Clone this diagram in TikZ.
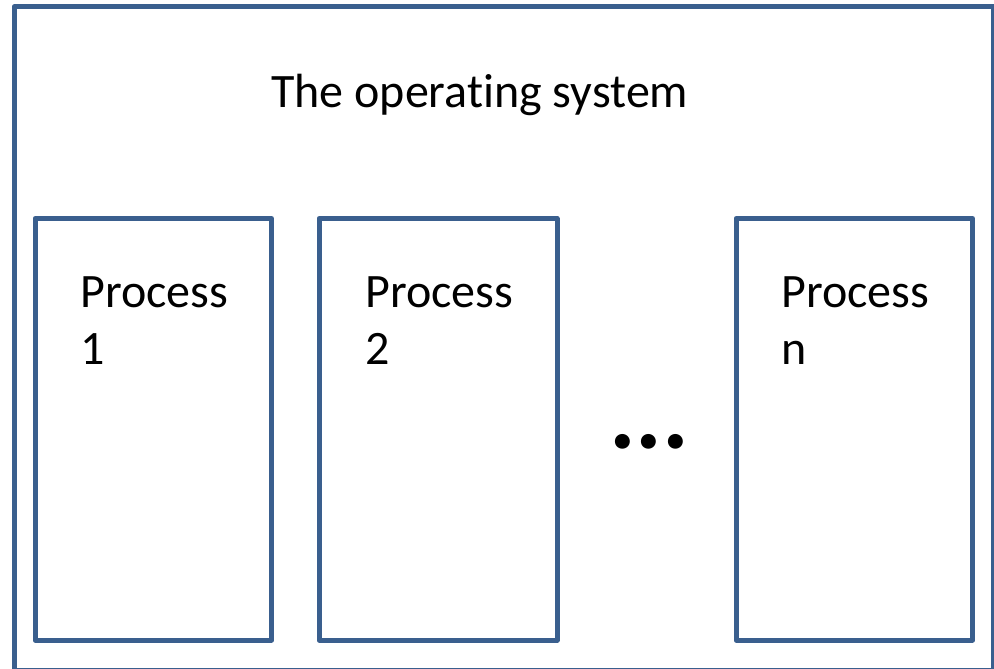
\documentclass[tikz,border=0pt]{standalone}
\usepackage{fontspec}
\setmainfont{Carlito}[RawFeature=-liga]
\definecolor{osblue}{HTML}{3A5F8E}
\begin{document}
\begin{tikzpicture}[x=1pt,y=-1pt,
  frame/.style={draw=osblue,line width=5pt,line join=round},
  lbl/.style={anchor=base west,inner sep=0pt,font=\fontsize{48}{57}\selectfont,align=left}]
\clip (0,0) rectangle (994,669);
\fill[white] (0,0) rectangle (994,669);
\draw[frame] (14,7) rectangle (993,670);
\node[lbl] (title) at (271,107) {The operating system};
\draw[frame] (35,218.5) rectangle (271.5,640) coordinate (b1);
\draw[frame] (319,218.5) rectangle (557,640) coordinate (b2);
\draw[frame] (736,218.5) rectangle (972.5,640) coordinate (b3);
\node[lbl] (p1) at (80,364) {Process\\1};
\node[lbl] (p2) at (365,364) {Process\\2};
\node[lbl] (pn) at (781,364) {Process\\n};
\node[anchor=base west,inner sep=0pt,font=\fontsize{100}{110}\bfseries] (dots) at (609,448) {...};
\end{tikzpicture}
\end{document}
